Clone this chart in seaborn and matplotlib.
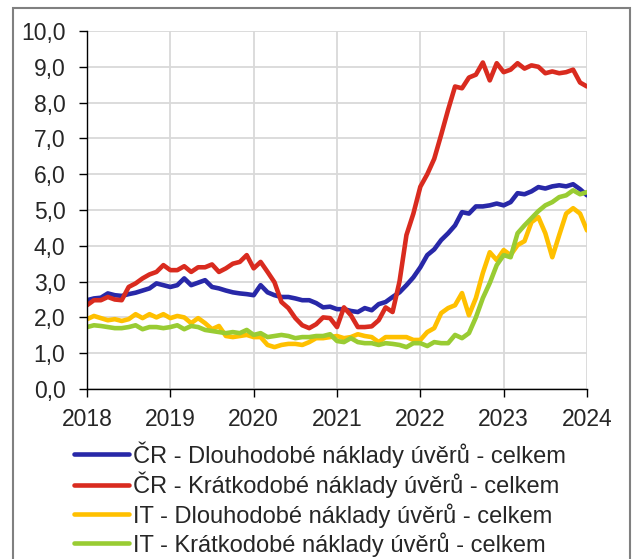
import matplotlib
matplotlib.use("Agg")
from matplotlib import pyplot as plt
from matplotlib import ticker
from matplotlib.patches import Rectangle
import seaborn as sns
import pandas as pd
import numpy as np

# =============================================================================
# data, monthly 2018-01 .. 2024-01
# =============================================================================
labels = ["ČR - Dlouhodobé náklady úvěrů - celkem",
          "ČR - Krátkodobé náklady úvěrů - celkem",
          "IT - Dlouhodobé náklady úvěrů - celkem",
          "IT - Krátkodobé náklady úvěrů - celkem"]
colors = ["#2828a8", "#d92b1f", "#ffc000", "#99cc33"]

cr_long = [2.48, 2.53, 2.55, 2.67, 2.62, 2.60, 2.65, 2.69, 2.75, 2.81, 2.95, 2.90,
           2.85, 2.90, 3.09, 2.90, 2.97, 3.04, 2.85, 2.81, 2.75, 2.70, 2.67, 2.65,
           2.62, 2.90, 2.70, 2.62, 2.57, 2.57, 2.53, 2.48, 2.48, 2.40, 2.28, 2.30,
           2.23, 2.23, 2.18, 2.15, 2.26, 2.20, 2.37, 2.43, 2.57, 2.70, 2.90, 3.12,
           3.40, 3.74, 3.90, 4.16, 4.35, 4.57, 4.94, 4.90, 5.10, 5.10, 5.13, 5.18,
           5.13, 5.22, 5.47, 5.44, 5.52, 5.64, 5.60, 5.66, 5.69, 5.66, 5.72, 5.58,
           5.41]
cr_short = [2.34, 2.48, 2.48, 2.57, 2.50, 2.48, 2.85, 2.95, 3.09, 3.20, 3.27, 3.46,
            3.32, 3.32, 3.43, 3.27, 3.40, 3.40, 3.48, 3.27, 3.37, 3.50, 3.55, 3.74,
            3.37, 3.55, 3.27, 2.98, 2.43, 2.26, 1.98, 1.78, 1.70, 1.81, 2.00, 1.98,
            1.73, 2.28, 2.06, 1.73, 1.73, 1.75, 1.92, 2.28, 2.15, 3.00, 4.30, 4.90,
            5.65, 6.00, 6.43, 7.10, 7.80, 8.45, 8.40, 8.70, 8.78, 9.12, 8.62, 9.10,
            8.85, 8.92, 9.10, 8.95, 9.04, 9.00, 8.82, 8.87, 8.82, 8.85, 8.92, 8.56,
            8.45]
it_long = [1.95, 2.04, 1.98, 1.92, 1.95, 1.90, 1.95, 2.09, 1.98, 2.09, 2.00, 2.09,
           1.98, 2.04, 2.00, 1.84, 1.98, 1.84, 1.67, 1.76, 1.48, 1.45, 1.48, 1.51,
           1.45, 1.45, 1.23, 1.17, 1.23, 1.26, 1.26, 1.23, 1.31, 1.42, 1.42, 1.45,
           1.48, 1.42, 1.45, 1.53, 1.48, 1.45, 1.31, 1.45, 1.45, 1.45, 1.45, 1.37,
           1.37, 1.59, 1.70, 2.12, 2.26, 2.34, 2.68, 2.06, 2.54, 3.24, 3.82, 3.60,
           3.88, 3.74, 4.02, 4.13, 4.66, 4.80, 4.35, 3.68, 4.30, 4.90, 5.05, 4.90,
           4.43]
it_short = [1.73, 1.78, 1.76, 1.73, 1.70, 1.70, 1.73, 1.78, 1.67, 1.73, 1.73, 1.70,
            1.73, 1.78, 1.67, 1.76, 1.73, 1.65, 1.62, 1.59, 1.56, 1.59, 1.56, 1.65,
            1.51, 1.56, 1.45, 1.48, 1.51, 1.48, 1.42, 1.45, 1.45, 1.48, 1.48, 1.53,
            1.34, 1.31, 1.42, 1.31, 1.28, 1.28, 1.23, 1.28, 1.26, 1.23, 1.17, 1.28,
            1.28, 1.20, 1.31, 1.28, 1.28, 1.51, 1.42, 1.56, 2.00, 2.54, 2.96, 3.46,
            3.74, 3.68, 4.35, 4.57, 4.77, 4.97, 5.13, 5.22, 5.36, 5.41, 5.55, 5.44,
            5.50]

years = [2018, 2019, 2020, 2021, 2022, 2023, 2024]

t = 2018 + np.arange(len(cr_long)) / 12.0
df = pd.DataFrame({"t": t, labels[0]: cr_long, labels[1]: cr_short,
                   labels[2]: it_long, labels[3]: it_short})
df = df.melt(id_vars="t", var_name="serie", value_name="val")

# =============================================================================
# plot
# =============================================================================
sns.set_style("white")
plt.rcParams['font.family'] = ['Liberation Sans', 'DejaVu Sans']

fig = plt.figure(figsize=(6.32, 5.59), dpi=100)
ax = fig.add_axes([87/632, 1-389/559, 500/632, 358/559])

sns.lineplot(data=df, x="t", y="val", hue="serie", hue_order=labels,
             palette=colors, linewidth=3.3, ax=ax, legend=True)

ax.set_xlim(2018, 2024)
ax.set_ylim(0, 10)
ax.xaxis.set_major_locator(ticker.FixedLocator(years))
ax.yaxis.set_major_locator(ticker.MultipleLocator(1))
ax.yaxis.set_major_formatter(ticker.FuncFormatter(lambda v, p: "{:.1f}".format(v).replace(".", ",")))
ax.grid(True, color="#d9d9d9", linewidth=1.3)
ax.set_axisbelow(True)
for s in ["top", "right"]:
    ax.spines[s].set_visible(False)
for s in ["left", "bottom"]:
    ax.spines[s].set_color("black")
    ax.spines[s].set_linewidth(1.0)
ax.tick_params(axis="both", direction="out", length=6, width=1, color="black",
               labelsize=16.5, left=True, bottom=True)
ax.tick_params(axis="y", pad=9.5)
ax.tick_params(axis="x", pad=8)
ax.set_xlabel("")
ax.set_ylabel("")

handles, labs = ax.get_legend_handles_labels()
ax.legend(handles, labs, loc="upper left", bbox_to_anchor=(74/632, 1-441/559),
          bbox_transform=fig.transFigure, frameon=False, fontsize=17,
          handlelength=2.33, handletextpad=0.17, labelspacing=0.19,
          borderpad=0, borderaxespad=0)
for h in ax.get_legend().get_lines():
    h.set_linewidth(3.3)

# outer frame
fig.patches.append(Rectangle((13/632, -0.05), 617/632, 1.05 - 8/559, transform=fig.transFigure,
                             fill=False, edgecolor="#808080", linewidth=1.5))

fig.savefig("out.png", dpi=100)
